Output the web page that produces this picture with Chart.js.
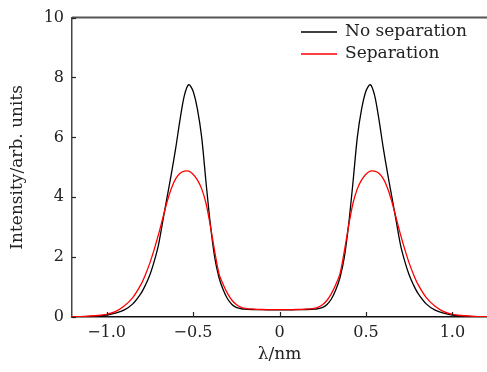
<!DOCTYPE html>
<html>
<head>
<meta charset="utf-8">
<script src="https://cdn.jsdelivr.net/npm/chart.js@4.4.0/dist/chart.umd.min.js"></script>
<style>
  html, body { margin: 0; padding: 0; background: #fff; }
  #wrap { width: 487px; height: 372px; }
</style>
</head>
<body>
<div id="wrap"><canvas id="spectrum"></canvas></div>
<script>
// wavelength offset (nm)
const lambdaValues = [
  -1.2, -1.15, -1.1, -1.05, -1.0, -0.95, -0.9, -0.85, -0.8, -0.775, -0.75, -0.725,
  -0.7, -0.675, -0.65, -0.625, -0.6, -0.575, -0.55, -0.525, -0.5, -0.475, -0.45,
  -0.425, -0.4, -0.375, -0.35, -0.325, -0.3, -0.275, -0.25, -0.225, -0.2, -0.15,
  -0.1, -0.05, 0,
  0.05, 0.1, 0.15, 0.2, 0.225, 0.25, 0.275, 0.3, 0.325, 0.35, 0.375, 0.4, 0.425,
  0.45, 0.475, 0.5, 0.525, 0.55, 0.575, 0.6, 0.625, 0.65, 0.675, 0.7, 0.725, 0.75,
  0.775, 0.8, 0.85, 0.9, 0.95, 1.0, 1.05, 1.1, 1.15, 1.2
];

// black curve
const noSeparation = [
  0.005, 0.01, 0.02, 0.035, 0.06, 0.13, 0.23, 0.43, 0.8, 1.07, 1.4, 1.85,
  2.4, 3.2, 4.0, 4.8, 5.65, 6.6, 7.4, 7.76, 7.55, 6.95, 6.0,
  4.5, 3.1, 2.0, 1.32, 0.9, 0.6, 0.42, 0.32, 0.28, 0.26, 0.25,
  0.245, 0.24, 0.24,
  0.24, 0.245, 0.25, 0.26, 0.28, 0.32, 0.42, 0.6, 0.9, 1.32, 2.0, 3.1, 4.5,
  6.0, 6.95, 7.55, 7.76, 7.4, 6.6, 5.65, 4.8, 4.0, 3.2, 2.4, 1.85, 1.4,
  1.07, 0.8, 0.43, 0.23, 0.13, 0.06, 0.035, 0.02, 0.01, 0.005
];

// red curve
const separation = [
  0.01, 0.015, 0.03, 0.05, 0.09, 0.18, 0.36, 0.64, 1.1, 1.42, 1.8, 2.25,
  2.75, 3.3, 3.85, 4.3, 4.62, 4.8, 4.87, 4.87, 4.77, 4.58, 4.28,
  3.8, 3.05, 2.2, 1.45, 1.08, 0.78, 0.56, 0.42, 0.33, 0.29, 0.26,
  0.25, 0.245, 0.245,
  0.245, 0.25, 0.26, 0.29, 0.33, 0.42, 0.56, 0.78, 1.08, 1.45, 2.2, 3.05, 3.8,
  4.28, 4.58, 4.77, 4.87, 4.87, 4.8, 4.62, 4.3, 3.85, 3.3, 2.75, 2.25, 1.8,
  1.42, 1.1, 0.64, 0.36, 0.18, 0.09, 0.05, 0.03, 0.015, 0.01
];

const xTickValues = [-1.0, -0.5, 0, 0.5, 1.0];
const yTickValues = [0, 2, 4, 6, 8, 10];
const seriesNames = ['No separation', 'Separation'];

const FONT = 'DejaVu Serif';

function toPoints(ys) {
  return lambdaValues.map((x, i) => ({ x, y: ys[i] }));
}

function formatTick(v) {
  if (v === 0) return '0';
  const s = Math.abs(v).toFixed(1);
  return v < 0 ? '\u2212' + s : s;
}

// inward tick marks, top frame line and the legend inside the plot
const framePlugin = {
  id: 'frame',
  afterDraw(chart) {
    const { ctx, chartArea, scales } = chart;
    ctx.save();
    ctx.strokeStyle = '#555';
    ctx.lineWidth = 2;
    ctx.beginPath();
    ctx.moveTo(chartArea.left, chartArea.top);
    ctx.lineTo(chartArea.right, chartArea.top);
    ctx.stroke();

    ctx.lineWidth = 1.2;
    ctx.strokeStyle = '#222';
    for (const t of scales.x.ticks) {
      const px = Math.round(scales.x.getPixelForValue(t.value)) + 0.5;
      ctx.beginPath();
      ctx.moveTo(px, chartArea.bottom);
      ctx.lineTo(px, chartArea.bottom - 5);
      ctx.stroke();
    }
    for (const t of scales.y.ticks) {
      const py = Math.round(scales.y.getPixelForValue(t.value)) + 0.5;
      ctx.beginPath();
      ctx.moveTo(chartArea.left, py);
      ctx.lineTo(chartArea.left + 4, py);
      ctx.stroke();
    }

    // legend
    const order = [1, 0]; // black first, then red
    ctx.font = '17px "' + FONT + '"';
    ctx.textBaseline = 'middle';
    ctx.fillStyle = '#222';
    order.forEach((di, row) => {
      const ds = chart.data.datasets[di];
      const y = 32 + row * 22;
      ctx.strokeStyle = ds.borderColor;
      ctx.lineWidth = 1.3;
      ctx.beginPath();
      ctx.moveTo(301, y);
      ctx.lineTo(337, y);
      ctx.stroke();
      ctx.fillText(ds.label, 345, y);
    });
    ctx.restore();
  }
};

const ctx = document.getElementById('spectrum').getContext('2d');

new Chart(ctx, {
  type: 'scatter',
  data: {
    datasets: [
      {
        label: seriesNames[1],
        data: toPoints(separation),
        borderColor: '#ff0000',
        order: 0
      },
      {
        label: seriesNames[0],
        data: toPoints(noSeparation),
        borderColor: '#000000',
        order: 1
      }
    ]
  },
  options: {
    responsive: true,
    maintainAspectRatio: false,
    animation: false,
    layout: { padding: { top: 15, right: 0, left: 0, bottom: 0 } },
    elements: {
      point: { radius: 0, hoverRadius: 0 },
      line: { borderWidth: 1.3, fill: false, tension: 0.3 }
    },
    datasets: { scatter: { showLine: true } },
    plugins: {
      legend: { display: false },
      tooltip: { enabled: false }
    },
    scales: {
      x: {
        type: 'linear',
        min: -1.2,
        max: 1.2,
        afterBuildTicks: (scale) => { scale.ticks = xTickValues.map(v => ({ value: v })); },
        afterFit: (scale) => { scale.height = 55; },
        grid: { drawOnChartArea: false, drawTicks: false },
        border: { color: '#111', width: 1.5 },
        ticks: {
          padding: 6,
          color: '#222',
          font: { family: FONT, size: 16 },
          callback: (v) => formatTick(v)
        },
        title: {
          display: true,
          text: '\u03bb/nm',
          color: '#222',
          font: { family: FONT, size: 17 },
          padding: { bottom: 7, top: 0 }
        }
      },
      y: {
        type: 'linear',
        min: 0,
        max: 10,
        afterBuildTicks: (scale) => { scale.ticks = yTickValues.map(v => ({ value: v })); },
        afterFit: (scale) => { scale.width = 72; },
        grid: { drawOnChartArea: false, drawTicks: false },
        border: { color: '#444', width: 1.5 },
        ticks: {
          padding: 8,
          color: '#222',
          font: { family: FONT, size: 16 },
          callback: (v) => String(v)
        },
        title: {
          display: true,
          text: 'Intensity/arb. units',
          color: '#222',
          font: { family: FONT, size: 17 },
          padding: { top: 7, bottom: 0 }
        }
      }
    }
  },
  plugins: [framePlugin]
});
</script>
</body>
</html>
